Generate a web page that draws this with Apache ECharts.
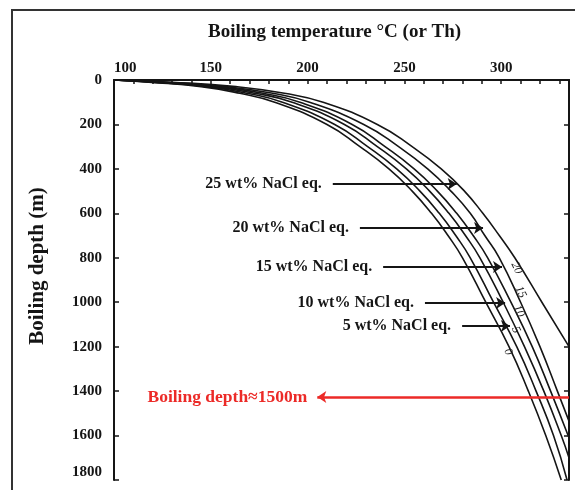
<!DOCTYPE html>
<html>
<head>
<meta charset="utf-8">
<script src="https://cdn.jsdelivr.net/npm/echarts/dist/echarts.min.js"></script>
<style>
  html, body { margin: 0; padding: 0; background: #ffffff; }
  #chart { width: 575px; height: 490px; }
</style>
</head>
<body>
<div id="chart"></div>
<script>
// ---------- data ----------
const depths = [0, 10, 30, 60, 100, 200, 300, 400, 500, 600, 700, 800, 1000, 1200, 1400, 1600, 1800];
const temp0  = [100, 118, 145, 165, 183, 210, 227, 242, 254, 264, 272.5, 280, 292, 304, 314, 323, 331];
const temp5  = [100, 120, 148, 169, 187, 214, 231, 246, 258, 268, 276.5, 284, 296, 308, 318, 327, 334];
const temp10 = [100, 122, 151, 173, 192, 219, 236, 251, 263, 273, 281.5, 289, 301, 312, 322, 331];
const temp15 = [100, 124, 154, 177, 196, 223, 240, 255, 267, 277, 285.5, 293, 305, 316, 325.5];
const temp20 = [100, 127, 158, 182, 201, 229, 247, 262, 274, 284, 291.5, 299, 310, 320, 329];
const temp25 = [100, 130, 163, 188, 208, 236, 254, 269, 281, 290.5, 299, 307, 321];
// where the curves leave the plot at its right edge: [temperature, depth]
const exit10 = [335, 1700];
const exit15 = [335, 1610];
const exit20 = [335, 1535];
const exit25 = [335, 1200];

const salinities = [0, 5, 10, 15, 20, 25];
const curveTags = ['0', '5', '10', '15', '20'];
const arrowTexts = ['25 wt% NaCl eq.', '20 wt% NaCl eq.', '15 wt% NaCl eq.', '10 wt% NaCl eq.', '5 wt% NaCl eq.'];
const boilingText = 'Boiling depth\u22481500m';
const xTickLabels = [100, 150, 200, 250, 300];
const yTickLabels = [0, 200, 400, 600, 800, 1000, 1200, 1400, 1600, 1800];

// ---------- chart ----------
const FONT = '"Liberation Serif", "Times New Roman", serif';
const INK = '#151515';

function pairs(temps, extra) {
  const d = temps.map((t, i) => [t, depths[i]]);
  if (extra) d.push(extra);
  return d;
}
const curves = [
  pairs(temp0), pairs(temp5), pairs(temp10, exit10),
  pairs(temp15, exit15), pairs(temp20, exit20), pairs(temp25, exit25)
];

// anchors (data units) for annotations
const tagAnchors = [[303.5, 1224], [307.6, 1125], [309, 1040], [310, 954], [308, 846]];
const arrowRows = [
  { from: 213, to: 277, depth: 468 },
  { from: 227, to: 290.6, depth: 666 },
  { from: 239, to: 300.4, depth: 842 },
  { from: 260.6, to: 302, depth: 1004 },
  { from: 279.8, to: 304.5, depth: 1107 }
];

const series = curves.map((d, i) => ({
  type: 'line',
  name: salinities[i] + ' wt%',
  data: d,
  smooth: 0.5,
  showSymbol: false,
  symbol: 'none',
  lineStyle: { color: INK, width: 1.6 },
  xAxisIndex: 0, yAxisIndex: 0,
  z: 3,
  markPoint: i < 5 ? {
    symbol: 'circle', symbolSize: 0, silent: true,
    data: [{
      coord: tagAnchors[i], value: curveTags[i],
      label: {
        show: true, position: 'inside', formatter: curveTags[i], rotate: -65,
        fontFamily: FONT, fontStyle: 'italic', fontSize: 12, color: '#222'
      }
    }]
  } : undefined
}));

// annotation helper series (black arrows, texts, red boiling-depth arrow)
series.push({
  type: 'line',
  data: [],
  xAxisIndex: 0, yAxisIndex: 0,
  silent: true,
  markLine: {
    silent: true,
    symbol: ['none', 'arrow'],
    symbolSize: 9,
    label: { show: false },
    lineStyle: { color: INK, width: 2, type: 'solid' },
    data: arrowRows.map(r => [
      { coord: [r.from, r.depth] },
      { coord: [r.to, r.depth] }
    ]).concat([[
      { coord: [335, 1427], lineStyle: { color: '#ec2a27', width: 2.5, type: 'solid' }, symbolSize: 13 },
      { coord: [205, 1427] }
    ]])
  },
  markPoint: {
    symbol: 'circle', symbolSize: 0, silent: true,
    data: arrowRows.map((r, i) => ({
      coord: [r.from, r.depth], value: 0,
      label: {
        show: true, position: 'left', distance: 11, formatter: arrowTexts[i],
        fontFamily: FONT, fontWeight: 'bold', fontSize: 16, color: INK
      }
    })).concat([{
      coord: [205, 1427], value: 0,
      label: {
        show: true, position: 'left', distance: 10, formatter: boilingText,
        fontFamily: FONT, fontWeight: 'bold', fontSize: 17.5, color: '#ec2a27'
      }
    }])
  }
});

const axisLineStyle = { color: INK, width: 2 };

const option = {
  animation: false,
  backgroundColor: '#ffffff',
  title: {
    text: 'Boiling temperature \u00B0C (or Th)',
    left: 203, top: 18,
    textStyle: { fontFamily: FONT, fontWeight: 'bold', fontSize: 19, color: INK }
  },
  graphic: [{
    type: 'rect', silent: true,
    shape: { x: 12, y: 10, width: 620, height: 540 },
    style: { fill: 'none', stroke: '#333', lineWidth: 2 }
  }],
  grid: { left: 114, top: 80, width: 455, height: 400 },
  xAxis: [{
    type: 'value', position: 'top', min: 100, max: 335, interval: 10,
    axisLine: { lineStyle: axisLineStyle },
    axisTick: { inside: true, length: 4, lineStyle: { color: INK, width: 1.5 } },
    axisLabel: {
      formatter: v => (xTickLabels.indexOf(v) >= 0 ? String(v) : ''),
      fontFamily: FONT, fontWeight: 'bold', fontSize: 15, color: INK, margin: 4,
      alignMinLabel: 'left'
    },
    splitLine: { show: false }
  }, {
    type: 'value', position: 'bottom', min: 100, max: 335,
    axisLine: { lineStyle: axisLineStyle },
    axisTick: { show: false }, axisLabel: { show: false }, splitLine: { show: false }
  }],
  yAxis: [{
    type: 'value', inverse: true, min: 0, max: 1800, interval: 200,
    name: 'Boiling depth (m)', nameLocation: 'middle', nameGap: 66,
    nameTextStyle: {
      fontFamily: FONT, fontWeight: 'bold', fontSize: 21, color: INK,
      padding: [0, 0, 0, 28]
    },
    axisLine: { lineStyle: axisLineStyle },
    axisTick: { inside: true, length: 5, lineStyle: { color: INK, width: 1.5 } },
    axisLabel: {
      formatter: v => (yTickLabels.indexOf(v) >= 0 ? String(v) : ''),
      fontFamily: FONT, fontWeight: 'bold', fontSize: 15, color: INK, margin: 12,
      verticalAlignMaxLabel: 'bottom'
    },
    splitLine: { show: false }
  }, {
    type: 'value', inverse: true, min: 0, max: 1800, interval: 200, position: 'right',
    axisLine: { lineStyle: axisLineStyle },
    axisTick: { inside: true, length: 5, lineStyle: { color: INK, width: 1.5 } },
    axisLabel: { show: false }, splitLine: { show: false }
  }],
  series: series
};

const chart = echarts.init(document.getElementById('chart'), null, { renderer: 'canvas' });
chart.setOption(option);
</script>
</body>
</html>
